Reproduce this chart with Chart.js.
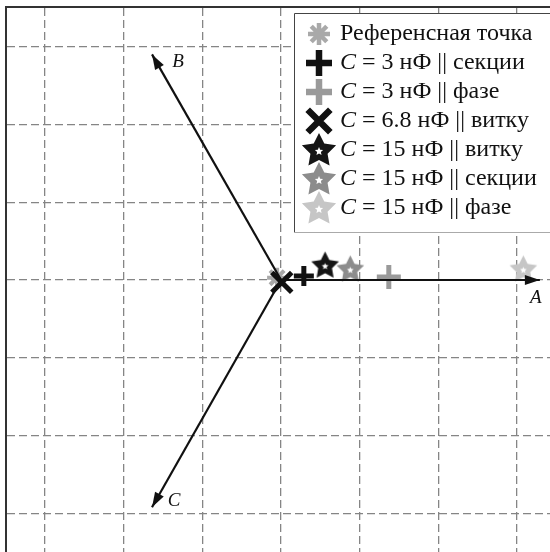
<!DOCTYPE html>
<html>
<head>
<meta charset="utf-8">
<script src="https://cdn.jsdelivr.net/npm/chart.js@4.4.1/dist/chart.umd.min.js"></script>
<style>
  html, body { margin: 0; padding: 0; background: #fff; overflow: hidden; }
</style>
</head>
<body>
<canvas id="phasor" width="550" height="552"></canvas>
<script>
// Measured operating points (grid units)
const seriesNames = [
  'Референсная точка',
  'C = 3 нФ || секции',
  'C = 3 нФ || фазе',
  'C = 6.8 нФ || витку',
  'C = 15 нФ || витку',
  'C = 15 нФ || секции',
  'C = 15 нФ || фазе'
]
const pointX = [-0.05, 0.29, 1.37, 0.01, 0.56, 0.88, 3.08]
const pointY = [0.03, 0.05, 0.04, -0.03, 0.19, 0.14, 0.14]

// Phase vectors A, B, C
const phaseNames = ['A', 'B', 'C']
const phaseTipX = [3.29, -1.64, -1.64]
const phaseTipY = [0, 2.90, -2.92]

// Grid lines
const gridTicks = [-3, -2, -1, 0, 1, 2, 3]

// Filled five-point star with a small white star inside
function starPath(g, cx, cy, R, r) {
  g.beginPath()
  for (let i = 0; i < 10; i++) {
    const rad = i % 2 === 0 ? R : r
    const a = -Math.PI / 2 + i * Math.PI / 5
    const px = cx + rad * Math.cos(a)
    const py = cy + rad * Math.sin(a)
    if (i === 0) g.moveTo(px, py)
    else g.lineTo(px, py)
  }
  g.closePath()
}

function starCanvas(R, fill) {
  const c = document.createElement('canvas')
  const s = Math.ceil(R * 2 + 2)
  c.width = s
  c.height = s
  const g = c.getContext('2d')
  starPath(g, s / 2, s / 2 + R * 0.05, R, R * 0.5)
  g.fillStyle = fill
  g.fill()
  starPath(g, s / 2, s / 2 + R * 0.08, R * 0.24, R * 0.11)
  g.fillStyle = '#fff'
  g.fill()
  return c
}

// Marker look for each series: plot size and legend size
const markers = [
  { style: 'star', color: '#a9a9a9', r: 10, w: 4, lr: 11, lw: 4.5 },
  { style: 'cross', color: '#111', r: 10, w: 5, lr: 13, lw: 6.5 },
  { style: 'cross', color: '#9a9a9a', r: 12, w: 5, lr: 13, lw: 6.5 },
  { style: 'crossRot', color: '#111', r: 14, w: 5, lr: 16, lw: 6.5 },
  { style: starCanvas(14.5, '#151515'), legend: starCanvas(18, '#151515'), r: 14 },
  { style: starCanvas(14.5, '#8c8c8c'), legend: starCanvas(18, '#8c8c8c'), r: 14 },
  { style: starCanvas(14.5, '#c6c6c6'), legend: starCanvas(18, '#c6c6c6'), r: 14 }
]

const pointDatasets = seriesNames.map((name, i) => ({
  type: 'scatter',
  label: name,
  data: [{ x: pointX[i], y: pointY[i] }],
  pointStyle: markers[i].style,
  pointRadius: markers[i].r,
  pointHoverRadius: markers[i].r,
  pointBorderWidth: markers[i].w || 0,
  pointBorderColor: markers[i].color || '#000',
  pointBackgroundColor: markers[i].color || '#000',
  order: i === 0 ? 3 : 2
}))

const vectorDatasets = phaseNames.map((name, i) => ({
  type: 'line',
  label: name,
  data: [{ x: 0, y: 0 }, { x: phaseTipX[i], y: phaseTipY[i] }],
  borderColor: '#111',
  borderWidth: 2.2,
  pointRadius: 0,
  fill: false,
  order: 1
}))

// Arrow heads and phase letters
const arrowPlugin = {
  id: 'arrows',
  afterDatasetsDraw(chart) {
    const { ctx, scales: { x, y } } = chart
    const labelOffsets = [[-4, 18], [26, 8], [22, -6]]
    ctx.save()
    phaseNames.forEach((name, i) => {
      const x0 = x.getPixelForValue(0)
      const y0 = y.getPixelForValue(0)
      const x1 = x.getPixelForValue(phaseTipX[i])
      const y1 = y.getPixelForValue(phaseTipY[i])
      const a = Math.atan2(y1 - y0, x1 - x0)
      const len = 15
      const half = 5
      ctx.beginPath()
      ctx.moveTo(x1, y1)
      ctx.lineTo(x1 - len * Math.cos(a) + half * Math.sin(a), y1 - len * Math.sin(a) - half * Math.cos(a))
      ctx.lineTo(x1 - len * Math.cos(a) - half * Math.sin(a), y1 - len * Math.sin(a) + half * Math.cos(a))
      ctx.closePath()
      ctx.fillStyle = '#111'
      ctx.fill()

      ctx.font = 'italic 19px "Liberation Serif"'
      ctx.textAlign = 'center'
      ctx.textBaseline = 'middle'
      ctx.fillText(name, x1 + labelOffsets[i][0], y1 + labelOffsets[i][1])
    })
    ctx.restore()
  }
}

// Legend box in the upper right corner
const legendPlugin = {
  id: 'phasorLegend',
  afterDraw(chart) {
    const ctx = chart.ctx
    const boxX = 294
    const boxY = 13
    const boxH = 219
    ctx.save()
    ctx.fillStyle = '#fff'
    ctx.fillRect(boxX, boxY, 300, boxH)
    ctx.strokeStyle = '#444'
    ctx.lineWidth = 1
    ctx.beginPath()
    ctx.moveTo(boxX + 0.5, boxY + boxH)
    ctx.lineTo(boxX + 0.5, boxY + 0.5)
    ctx.lineTo(560, boxY + 0.5)
    ctx.stroke()
    ctx.strokeStyle = '#aaa'
    ctx.beginPath()
    ctx.moveTo(boxX, boxY + boxH + 0.5)
    ctx.lineTo(560, boxY + boxH + 0.5)
    ctx.stroke()

    seriesNames.forEach((name, i) => {
      const cy = 34 + i * 29
      const m = markers[i]
      if (m.legend) {
        Chart.helpers.drawPoint(ctx, { pointStyle: m.legend, radius: 18, rotation: 0 }, 319, cy)
      } else {
        ctx.strokeStyle = m.color
        ctx.fillStyle = m.color
        ctx.lineWidth = m.lw
        Chart.helpers.drawPoint(ctx, { pointStyle: m.style, radius: m.lr, rotation: 0, borderWidth: m.lw }, 319, cy)
      }

      ctx.fillStyle = '#111'
      ctx.textBaseline = 'middle'
      ctx.textAlign = 'left'
      let tx = 340
      let rest = name
      if (name.startsWith('C ')) {
        ctx.font = 'italic 24px "Liberation Serif"'
        ctx.fillText('C', tx, cy)
        tx += ctx.measureText('C').width
        rest = name.slice(1)
      }
      ctx.font = '24px "Liberation Serif"'
      ctx.fillText(rest, tx, cy)
    })
    ctx.restore()
  }
}

const dashedGrid = {
  color: '#858585',
  lineWidth: 1.3,
  drawTicks: false
}

new Chart(document.getElementById('phasor'), {
  type: 'scatter',
  data: { datasets: [...vectorDatasets, ...pointDatasets] },
  options: {
    responsive: false,
    devicePixelRatio: 1,
    animation: false,
    layout: { autoPadding: false, padding: { left: 6, top: 7, right: 0, bottom: 0 } },
    plugins: { legend: { display: false }, tooltip: { enabled: false } },
    scales: {
      x: {
        type: 'linear',
        position: 'top',
        min: -3.496,
        max: 3.419,
        afterBuildTicks: (scale) => { scale.ticks = gridTicks.map(v => ({ value: v })) },
        ticks: { display: false },
        grid: dashedGrid,
        border: { display: true, color: '#333', width: 2, dash: [8, 4] }
      },
      y: {
        type: 'linear',
        position: 'left',
        min: -3.496,
        max: 3.509,
        afterBuildTicks: (scale) => { scale.ticks = gridTicks.map(v => ({ value: v })) },
        ticks: { display: false },
        grid: dashedGrid,
        border: { display: true, color: '#333', width: 2, dash: [8, 4] }
      }
    }
  },
  plugins: [arrowPlugin, legendPlugin]
})
</script>
</body>
</html>
